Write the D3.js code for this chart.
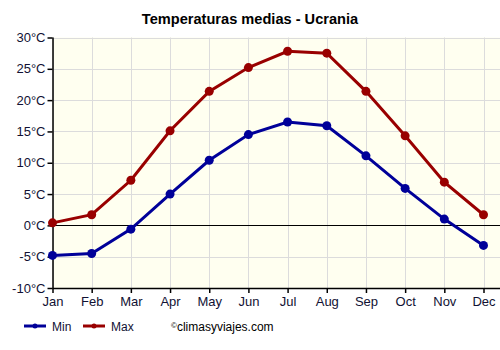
<!DOCTYPE html>
<html>
<head>
<style>
body {margin:0; background:#fff;}
text {font-family:"Liberation Sans", Arial, sans-serif;}
</style>
<script src="https://d3js.org/d3.v7.min.js"></script>
</head>
<body>
<svg id="vis" width="500" height="350"></svg>
<script>
var months = ["Jan","Feb","Mar","Apr","May","Jun","Jul","Aug","Sep","Oct","Nov","Dec"];
var minTemp = [-4.8,-4.5,-0.6,5.0,10.4,14.5,16.5,15.9,11.1,5.9,1.0,-3.2];
var maxTemp = [0.4,1.7,7.2,15.1,21.4,25.2,27.8,27.5,21.4,14.3,6.9,1.7];
var yTicks = [-10,-5,0,5,10,15,20,25,30];

var svg = d3.select("#vis");
var plotL = 52.5, plotR = 500, plotT = 37.5, plotB = 288;

var x = d3.scalePoint().domain(months).range([plotL, 483.5]);
var y = d3.scaleLinear().domain([-10,30]).range([plotB, plotT]);

// plot background
svg.append("rect")
  .attr("x", plotL).attr("y", plotT)
  .attr("width", plotR-plotL).attr("height", plotB-plotT)
  .style("fill","#fffff0");

// grid
svg.selectAll(".hgrid").data(yTicks).enter().append("line")
  .attr("x1", plotL).attr("x2", plotR)
  .attr("y1", function(d){ return Math.round(y(d))+0.5 })
  .attr("y2", function(d){ return Math.round(y(d))+0.5 })
  .style("stroke","#dcdcdc");
svg.selectAll(".vgrid").data(months).enter().append("line")
  .attr("x1", function(d){ return Math.round(x(d))+0.5 })
  .attr("x2", function(d){ return Math.round(x(d))+0.5 })
  .attr("y1", plotT).attr("y2", plotB)
  .style("stroke","#dcdcdc");

// zero line
svg.append("line")
  .attr("x1", plotL).attr("x2", plotR)
  .attr("y1", Math.round(y(0))+0.5).attr("y2", Math.round(y(0))+0.5)
  .style("stroke","#000");

// axes
var yAxis = svg.append("g").attr("transform","translate("+plotL+",0)")
  .call(d3.axisLeft(y).tickValues(yTicks).tickSize(5).tickFormat(function(d){ return d+"°C" }));
var xAxis = svg.append("g").attr("transform","translate(0,"+plotB+")")
  .call(d3.axisBottom(x).tickSize(5));
xAxis.select(".domain").attr("d","M"+plotL+",0.5H"+plotR);
yAxis.select(".domain").attr("d","M0.5,"+plotT+"V"+plotB);
[xAxis, yAxis].forEach(function(a){
  a.selectAll("path,line").style("stroke","#000").style("stroke-width",1.5);
  a.selectAll("text").style("font-size","13px").style("fill","#111133")
   .style("font-family","Liberation Sans, Arial, sans-serif");
});
yAxis.selectAll("text").attr("x",-7);
xAxis.selectAll("text").attr("y",9);

// series
var series = [
  {name:"Min", values:minTemp, color:"#000099"},
  {name:"Max", values:maxTemp, color:"#990000"}
];
var line = d3.line().x(function(d,i){ return x(months[i]) }).y(function(d){ return y(d) });
series.forEach(function(s){
  svg.append("path").datum(s.values)
    .attr("d", line)
    .style("fill","none").style("stroke", s.color).style("stroke-width",3);
  svg.selectAll(".dot"+s.name).data(s.values).enter().append("circle")
    .attr("cx", function(d,i){ return x(months[i]) })
    .attr("cy", function(d){ return y(d) })
    .attr("r", 4.5)
    .style("fill", s.color);
});

// title
svg.append("text").attr("x",250).attr("y",24)
  .attr("text-anchor","middle")
  .style("font-weight","bold").style("font-size","14.6px")
  .text("Temperaturas medias - Ucrania");

// legend
var lx = [24, 83];
series.forEach(function(s,i){
  svg.append("line").attr("x1",lx[i]).attr("x2",lx[i]+22)
    .attr("y1",326).attr("y2",326)
    .style("stroke",s.color).style("stroke-width",3);
  svg.append("circle").attr("cx",lx[i]+11).attr("cy",326).attr("r",2.5).style("fill",s.color);
  svg.append("text").attr("x",lx[i]+28).attr("y",330.5)
    .style("font-size","12px").style("fill","#111133").text(s.name);
});
svg.append("text").attr("x",171).attr("y",330.5)
  .style("font-size","12px").style("fill","#000")
  .html('<tspan font-size="8px" dy="-3">©</tspan><tspan dy="3">climasyviajes.com</tspan>');
</script>
</body>
</html>
